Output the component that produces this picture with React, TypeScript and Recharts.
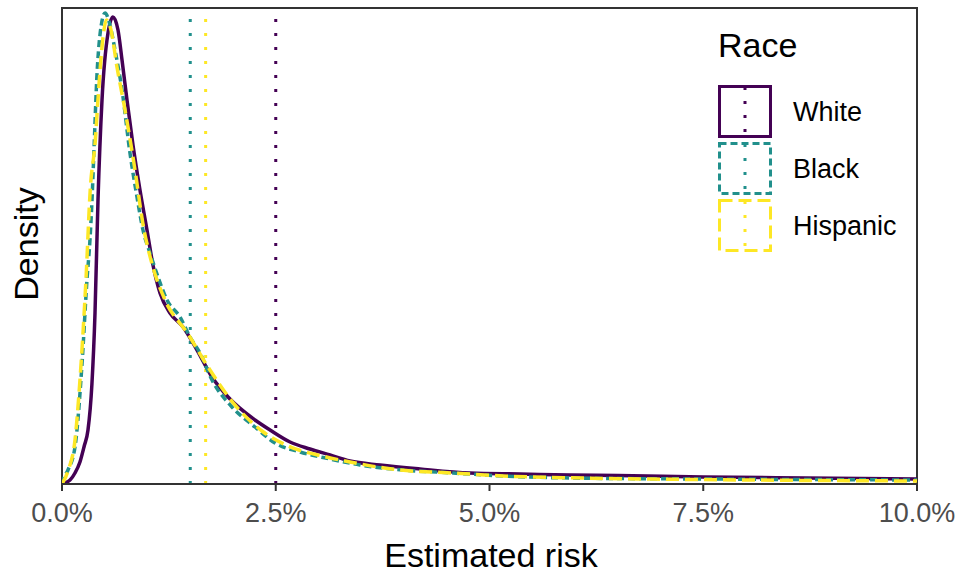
import React from 'react';
import { LineChart, Line, XAxis, YAxis, ReferenceLine, ReferenceArea, Legend } from 'recharts';

// Estimated risk (%) and density (arbitrary units)
const whiteX = [0, 0.058, 0.094, 0.152, 0.21, 0.26, 0.304, 0.35, 0.386, 0.421, 0.468, 0.538, 0.596, 0.655, 0.702, 0.76, 0.83, 0.912, 0.994, 1.064, 1.146, 1.263, 1.415, 1.579, 1.754, 1.942, 2.257, 2.433, 2.667, 2.9, 3.135, 3.368, 3.719, 4.187, 4.772, 5.357, 5.942, 6.5, 7.5, 8.7, 10];
const whiteD = [0, 0.02, 0.04, 0.11, 0.22, 0.38, 0.54, 1.0, 1.71, 2.84, 3.84, 4.51, 4.67, 4.54, 4.24, 3.84, 3.39, 2.94, 2.54, 2.19, 1.91, 1.71, 1.57, 1.34, 1.07, 0.87, 0.64, 0.54, 0.42, 0.35, 0.29, 0.23, 0.19, 0.15, 0.11, 0.1, 0.09, 0.085, 0.07, 0.06, 0.05];

const blackX = [0, 0.012, 0.07, 0.152, 0.234, 0.292, 0.327, 0.351, 0.374, 0.409, 0.444, 0.503, 0.561, 0.62, 0.702, 0.795, 0.877, 0.947, 1.029, 1.123, 1.228, 1.38, 1.497, 1.614, 1.754, 1.988, 2.257, 2.491, 2.784, 3.135, 3.485, 3.988, 4.573, 5.158, 5.942, 7.5, 10];
const blackD = [0, 0.04, 0.14, 0.37, 1.2, 2.04, 2.44, 2.84, 3.34, 4.09, 4.49, 4.71, 4.59, 4.34, 3.94, 3.31, 2.87, 2.54, 2.31, 2.07, 1.84, 1.67, 1.47, 1.31, 1.04, 0.77, 0.57, 0.41, 0.32, 0.25, 0.19, 0.14, 0.11, 0.08, 0.06, 0.05, 0.04];

const hispX = [0, 0.074, 0.152, 0.21, 0.28, 0.33, 0.39, 0.418, 0.448, 0.48, 0.52, 0.573, 0.643, 0.737, 0.854, 0.947, 1.053, 1.205, 1.474, 1.708, 2.023, 2.339, 2.643, 3.041, 3.368, 3.953, 4.573, 5.158, 6.094, 8.047, 10];
const hispD = [0, 0.14, 0.44, 1.04, 2.04, 2.94, 3.44, 3.81, 4.17, 4.47, 4.64, 4.54, 4.17, 3.74, 3.14, 2.6, 2.2, 1.84, 1.5, 1.17, 0.79, 0.53, 0.38, 0.28, 0.22, 0.14, 0.11, 0.08, 0.06, 0.04, 0.03];

const groupNames = ['White', 'Black', 'Hispanic'];
const groupColors = ['#440154', '#21908C', '#FDE725'];
const groupDashes = [undefined, '7 4', '13 6'];
const groupMeans = [2.5, 1.5, 1.68];

const xTicks = [0, 2.5, 5, 7.5, 10];
const yMax = 4.76;

const FONT = '"Liberation Sans", Arial, Helvetica, sans-serif';

const toRows = (xs: number[], ds: number[]) => xs.map((x, i) => ({ x, d: ds[i] }));
const seriesData = [toRows(whiteX, whiteD), toRows(blackX, blackD), toRows(hispX, hispD)];

const LegendContent = () => (
  <svg width={230} height={250} style={{ display: 'block', overflow: 'visible' }}>
    <text x={18} y={37} fontSize={34} fontFamily={FONT} fill="#000">Race</text>
    {groupNames.map((n, i) => {
      const top = 65 + i * 57;
      return (
        <g key={n}>
          <rect x={19.5} y={top + 1.5} width={51} height={50} fill="none"
            stroke={groupColors[i]} strokeWidth={3} strokeDasharray={groupDashes[i]} />
          <line x1={45} x2={45} y1={top + 2} y2={top + 52} stroke={groupColors[i]}
            strokeWidth={3} strokeDasharray="3 11" />
          <text x={93} y={top + 36} fontSize={27} fontFamily={FONT} fill="#000">{n}</text>
        </g>
      );
    })}
  </svg>
);

export default function App() {
  return (
    <div style={{ position: 'absolute', left: 0, top: 0, width: 965, height: 575, background: '#fff' }}>
      <LineChart width={965} height={575} margin={{ top: 8, right: 48, bottom: 0, left: 0 }}>
        <XAxis
          dataKey="x"
          type="number"
          domain={[0, 10]}
          ticks={xTicks}
          allowDataOverflow
          height={91}
          tickSize={7}
          tickMargin={12}
          tickFormatter={(v: number) => v.toFixed(1) + '%'}
          tick={{ fontSize: 27, fill: '#4d4d4d', fontFamily: FONT }}
          axisLine={{ stroke: '#333333', strokeWidth: 2 }}
          tickLine={{ stroke: '#333333', strokeWidth: 2 }}
          label={() => (
            <text x={491} y={567} textAnchor="middle" fontSize={34} fontFamily={FONT} fill="#000">
              Estimated risk
            </text>
          )}
        />
        <YAxis
          type="number"
          domain={[0, yMax]}
          allowDataOverflow
          width={62}
          tick={false}
          tickLine={false}
          axisLine={false}
          label={() => (
            <text x={38} y={244} transform="rotate(-90, 38, 244)" textAnchor="middle"
              fontSize={34} fontFamily={FONT} fill="#000">
              Density
            </text>
          )}
        />
        {groupMeans.map((m, i) => (
          <ReferenceLine key={'m' + i} x={m} stroke={groupColors[i]} strokeWidth={3}
            strokeDasharray="3 11" ifOverflow="visible" />
        ))}
        {seriesData.map((rows, i) => (
          <Line
            key={groupNames[i]}
            data={rows}
            dataKey="d"
            name={groupNames[i]}
            type="monotone"
            stroke={groupColors[i]}
            strokeWidth={3.5}
            strokeDasharray={groupDashes[i]}
            dot={false}
            activeDot={false}
            isAnimationActive={false}
          />
        ))}
        <ReferenceArea x1={0} x2={10} y1={0} y2={yMax} fill="none" fillOpacity={0}
          stroke="#333333" strokeWidth={2} ifOverflow="visible" />
        <Legend
          layout="vertical"
          align="center"
          verticalAlign="middle"
          content={LegendContent}
          wrapperStyle={{ position: 'absolute', left: 700, top: 20, width: 230, height: 250 }}
        />
      </LineChart>
    </div>
  );
}
